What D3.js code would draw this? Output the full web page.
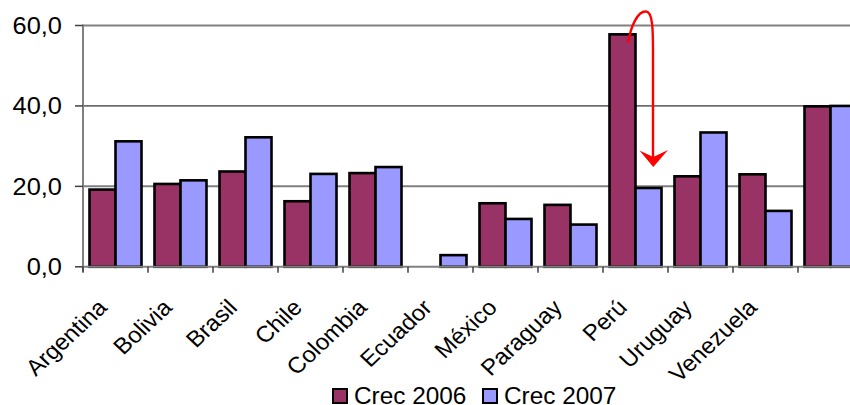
<!DOCTYPE html>
<html>
<head>
<meta charset="utf-8">
<script src="https://cdn.jsdelivr.net/npm/d3@7"></script>
<style>
html,body{margin:0;padding:0;background:#fff;}
svg{display:block;font-family:"Liberation Sans",Arial,sans-serif;}
</style>
</head>
<body>
<svg id="chart" width="850" height="405"></svg>
<script>
const categories = ["Argentina","Bolivia","Brasil","Chile","Colombia","Ecuador","México","Paraguay","Perú","Uruguay","Venezuela",""];
const crec2006 = [19.2,20.6,23.7,16.3,23.3,0,15.8,15.4,57.8,22.5,23.0,39.9];
const crec2007 = [31.2,21.5,32.2,23.1,24.8,2.9,11.9,10.5,19.6,33.4,13.9,40.0];
const seriesNames = ["Crec 2006","Crec 2007"];
const seriesColors = ["#993366","#9999FF"];
const yTicks = [0,20,40,60];
const fmt = v => d3.format(".1f")(v).replace(".", ",");

(function(){
const svg = d3.select("#chart");
const SX = 1.07; // horizontal stretch of the source image
const pL = 83, pR = 863, pT = 25.5, pB = 266.8;

const x = d3.scaleBand().domain(categories).range([pL, pR]).paddingInner(0.2).paddingOuter(0.1);
const xs = d3.scaleBand().domain([0,1]).range([0, x.bandwidth()]);
const y = d3.scaleLinear().domain([0,60]).range([pB, pT]);

// gridlines
const gridStyle = {20:{c:"#808080",w:2},40:{c:"#000",w:1},60:{c:"#808080",w:2}};
svg.append("g").selectAll("line").data(yTicks.filter(d=>d>0)).join("line")
  .attr("x1", pL).attr("x2", 850)
  .attr("y1", d=>y(d)).attr("y2", d=>y(d))
  .attr("stroke", d=>gridStyle[d].c).attr("stroke-width", d=>gridStyle[d].w);

// bars
const data = categories.map((c,i)=>({c, v:[crec2006[i], crec2007[i]]}));
const groups = svg.append("g").selectAll("g").data(data).join("g")
  .attr("transform", d=>`translate(${x(d.c)},0)`);
groups.selectAll("rect").data(d=>d.v.map((v,k)=>({v,k})).filter(e=>e.v>0)).join("rect")
  .attr("x", e=>xs(e.k)).attr("width", xs.bandwidth())
  .attr("y", e=>y(e.v)).attr("height", e=>y(0)-y(e.v))
  .attr("fill", e=>seriesColors[e.k]).attr("stroke", "#000").attr("stroke-width", 2.6);

// y axis
const yAxis = svg.append("g");
yAxis.append("line").attr("x1", pL).attr("x2", pL).attr("y1", pT-1).attr("y2", pB+5)
  .attr("stroke", "#808080").attr("stroke-width", 2);
yAxis.selectAll("line.t").data(yTicks).join("line").attr("class","t")
  .attr("x1", 75).attr("x2", pL).attr("y1", d=>y(d)).attr("y2", d=>y(d))
  .attr("stroke", "#404040").attr("stroke-width", 1.5);
yAxis.selectAll("text").data(yTicks).join("text")
  .attr("transform", d=>`translate(62,${y(d)+8.3}) scale(1.09,1)`)
  .attr("text-anchor", "end").attr("font-size", 23.3).attr("fill", "#000")
  .text(d=>fmt(d));

// x axis
const xAxis = svg.append("g");
xAxis.append("line").attr("x1", pL).attr("x2", 850).attr("y1", pB).attr("y2", pB)
  .attr("stroke", "#808080").attr("stroke-width", 2);
const boundaries = d3.range(categories.length+1).map(i => pL + i*x.step());
xAxis.selectAll("line.t").data(boundaries).join("line").attr("class","t")
  .attr("x1", d=>d).attr("x2", d=>d).attr("y1", pB).attr("y2", pB+6)
  .attr("stroke", "#404040").attr("stroke-width", 1.5);
xAxis.selectAll("text").data(categories.filter(c=>c)).join("text")
  .attr("transform", c=>`translate(${x(c)+x.bandwidth()/2-7},309) scale(${SX},1) rotate(-45)`)
  .attr("text-anchor", "end").attr("font-size", 22.5).attr("fill", "#000")
  .text(c=>c);

// legend
const legendX = [332, 482];
const lg = svg.append("g").selectAll("g").data(seriesNames).join("g")
  .attr("transform", (d,i)=>`translate(${legendX[i]},388)`);
lg.append("rect").attr("x",1).attr("y",1).attr("width",14).attr("height",14)
  .attr("fill",(d,i)=>seriesColors[i]).attr("stroke","#000").attr("stroke-width",2);
lg.append("text").attr("transform", `translate(22,16.3) scale(1.06,1)`)
  .attr("font-size", 23).attr("fill","#000").text(d=>d);

// annotation arrow (Perú)
const ann = svg.append("g");
ann.append("path")
  .attr("d","M628,43 C631,25 638,11 646,11.5 C653,12 653,30 653,55 L653,158")
  .attr("fill","none").attr("stroke","#ff0000").attr("stroke-width",2.4);
ann.append("path")
  .attr("d","M639.5,150.5 L653.3,157 L668,150 L653.3,167 Z")
  .attr("fill","#ff0000");
})();
</script>
</body>
</html>
